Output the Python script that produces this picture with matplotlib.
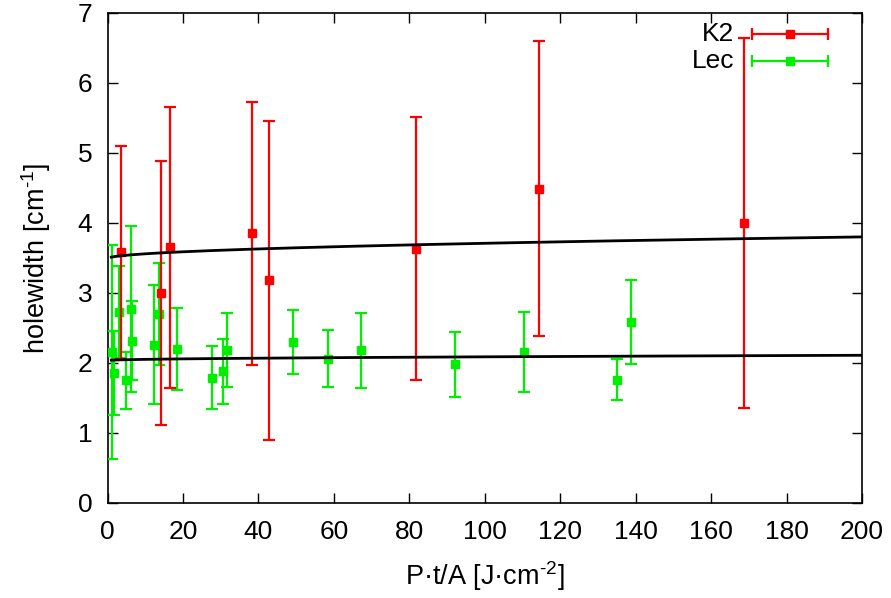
import numpy as np
import matplotlib
matplotlib.use("Agg")
import matplotlib.pyplot as plt
from matplotlib.lines import Line2D

plt.rcParams['font.family'] = ['Liberation Sans', 'DejaVu Sans']
plt.rcParams['mathtext.fontset'] = 'custom'
plt.rcParams['mathtext.rm'] = 'Liberation Sans'
plt.rcParams['mathtext.it'] = 'Liberation Sans:italic'

# K2 measurements: dose, hole width, uncertainty
k2_x = [3.6, 14.2, 16.5, 38.4, 42.8, 81.7, 114.3, 168.8]
k2_y = [3.58, 3.00, 3.65, 3.85, 3.18, 3.63, 4.49, 4.00]
k2_err = [1.52, 1.89, 2.01, 1.88, 2.28, 1.88, 2.11, 2.64]

# Lec measurements
lec_x = [1.1, 1.6, 3.0, 4.9, 6.2, 6.5, 12.4, 13.7, 18.4, 27.7, 30.7, 31.6,
         49.2, 58.4, 67.1, 92.0, 110.4, 135.0, 138.7]
lec_y = [2.16, 1.86, 2.73, 1.75, 2.77, 2.32, 2.26, 2.70, 2.20, 1.79, 1.88, 2.19,
         2.30, 2.06, 2.18, 1.98, 2.16, 1.76, 2.59]
lec_err = [1.53, 0.60, 0.66, 0.41, 1.19, 0.56, 0.85, 0.73, 0.58, 0.45, 0.46, 0.53,
           0.46, 0.41, 0.54, 0.46, 0.57, 0.29, 0.60]

# fitted curves y = a + b * x**c
k2_fit = (3.49, 0.022, 0.5)
lec_fit = (2.035, 0.0053, 0.5)

x_ticks = [0, 20, 40, 60, 80, 100, 120, 140, 160, 180, 200]
y_ticks = [0, 1, 2, 3, 4, 5, 6, 7]

RED = '#ff0000'
GREEN = '#00ee00'
FS = 19

fig = plt.figure(figsize=(8.91, 5.98), dpi=100)
ax = fig.add_axes([0.1207, 0.1589, 0.8468, 0.8194])

eb_kw = dict(fmt='s', markersize=6, elinewidth=1.6, capsize=4.5, capthick=1.6)
ax.errorbar(lec_x, lec_y, yerr=lec_err, color=GREEN, zorder=3, **eb_kw)
ax.errorbar(k2_x, k2_y, yerr=k2_err, color=RED, zorder=4, **eb_kw)

xf = np.linspace(1.0, 200, 400)
for a, b, c in (k2_fit, lec_fit):
    ax.plot(xf, a + b * xf ** c, color='black', lw=2.0, zorder=5)

ax.set_xlim(0, 200)
ax.set_ylim(0, 7)
ax.set_xticks(x_ticks)
ax.set_yticks(y_ticks)
ax.tick_params(direction='in', length=7, width=1, top=True, right=True,
               labelsize=FS)
ax.tick_params(axis='x', pad=12)
ax.tick_params(axis='y', pad=11)
for s in ax.spines.values():
    s.set_linewidth(1.2)

ax.set_xlabel('P·t/A [J·cm$^{\\text{-2}}$]', fontsize=FS + 0.5, labelpad=11)
ax.set_ylabel('holewidth [cm$^{\\text{-1}}$]', fontsize=FS + 0.5, labelpad=18)

# legend drawn as horizontal error-bar samples
entries = [('K2', RED, 0.957), ('Lec', GREEN, 0.901)]
for label, col, yy in entries:
    ax.text(0.831, yy, label, transform=ax.transAxes, ha='right', va='center',
            fontsize=FS)
    ax.add_line(Line2D([0.854, 0.955], [yy, yy], transform=ax.transAxes,
                       color=col, lw=1.6, clip_on=False))
    ax.add_line(Line2D([0.854, 0.955], [yy, yy], transform=ax.transAxes,
                       color=col, lw=0, marker='|', markersize=9, mew=1.6,
                       clip_on=False))
    ax.add_line(Line2D([0.905], [yy], transform=ax.transAxes, color=col,
                       marker='s', markersize=6, lw=0, clip_on=False))

fig.savefig('out.png', dpi=100)
